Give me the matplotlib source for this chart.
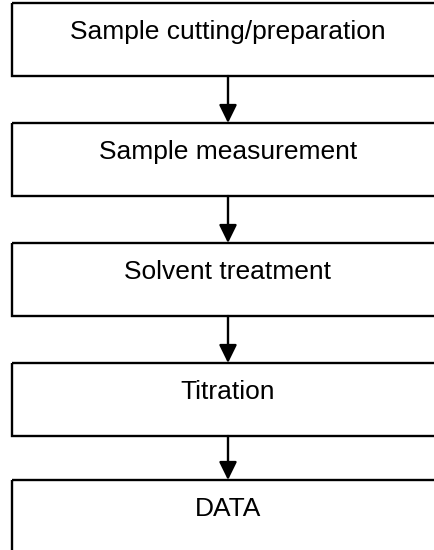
import matplotlib
matplotlib.use("Agg")
import matplotlib.pyplot as plt
from matplotlib.patches import Rectangle, FancyArrowPatch

# flowchart steps, top to bottom
steps = [
    "Sample cutting/preparation",
    "Sample measurement",
    "Solvent treatment",
    "Titration",
    "DATA",
]

W, H = 434, 550
fig = plt.figure(figsize=(W / 100, H / 100), dpi=100)
ax = fig.add_axes([0, 0, 1, 1])
ax.set_xlim(0, W)
ax.set_ylim(H, 0)
ax.axis("off")

left, width, box_h = 12, 432, 73
top0, pitch = 3, 120
cx = left + width / 2

tops = [top0 + pitch * i for i in range(len(steps))]
tops[-1] -= 3

for i, (label, top) in enumerate(zip(steps, tops)):
    ax.add_patch(Rectangle((left, top), width, box_h, fill=False,
                           edgecolor="black", lw=1.7, clip_on=False))
    ax.text(cx, top + 29, label, ha="center", va="center",
            fontsize=19, family="Liberation Sans", color="black")
    if i + 1 < len(steps):
        ax.add_patch(FancyArrowPatch((cx, top + box_h), (cx, tops[i + 1]),
                                     arrowstyle="-|>,head_length=0.55,head_width=0.27",
                                     mutation_scale=20, lw=1.7, color="black",
                                     shrinkA=0, shrinkB=0))

fig.savefig("out.png", dpi=100)
